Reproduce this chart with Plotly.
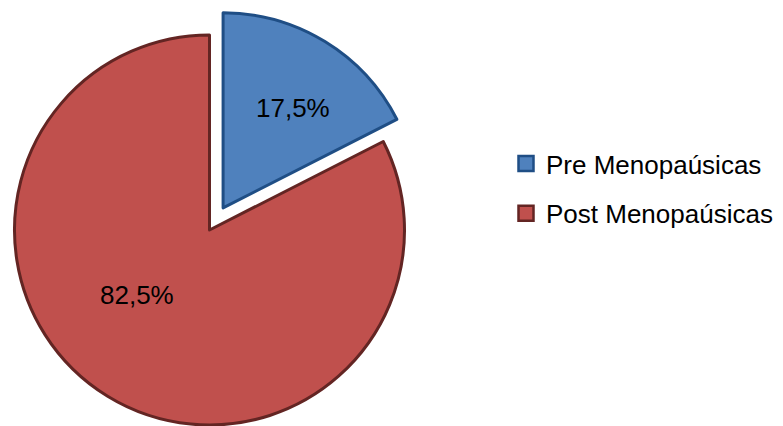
import math
import plotly.graph_objects as go

# ---- data ----
labels = ["Pre Menopaúsicas", "Post Menopaúsicas"]
values = [17.5, 82.5]
fill_colors = ["#4F81BD", "#C0504D"]
line_colors = ["#1F4E85", "#632523"]

# page body has an 8px margin, so the figure is drawn 8px in from the window
OFF = 8
W, H = 783 - OFF, 426 - OFF
FONT = "Liberation Sans, Arial, sans-serif"
TRANSP = "rgba(0,0,0,0)"

# layout styling (window pixels)
cx, cy, r = 209.5, 230.0, 195.0    # main pie centre / radius
explode = 26.0                      # distance the first slice is pulled out
# label placement: (fraction of radius, angle clockwise from 12 o'clock, degrees)
label_pos = [(0.625, 35.0), (0.50, 228.0)]

total = sum(values)
texts = [f"{v / total * 100:.1f}%".replace(".", ",") for v in values]

# direction of the exploded slice (bisector, clockwise from 12 o'clock)
mid = math.pi * values[0] / total
ecx = cx + math.sin(mid) * explode
ecy = cy - math.cos(mid) * explode
centers = [(ecx, ecy), (cx, cy)]


def px(x):
    return (x - OFF) / W


def py(y):
    return 1 - (y - OFF) / H


def dom(x0, y0):
    return dict(x=[px(x0 - r), px(x0 + r)], y=[py(y0 + r), py(y0 - r)])


fig = go.Figure()

# main pie (all slices except the exploded one visible)
fig.add_trace(go.Pie(
    labels=labels, values=values, sort=False, direction="clockwise", rotation=0,
    marker=dict(colors=[TRANSP] + fill_colors[1:],
                line=dict(color=[TRANSP] + line_colors[1:], width=3)),
    textinfo="none",
    domain=dom(cx, cy), showlegend=False, hoverinfo="skip", automargin=False,
))

# exploded slice
fig.add_trace(go.Pie(
    labels=labels, values=values, sort=False, direction="clockwise", rotation=0,
    marker=dict(colors=fill_colors[:1] + [TRANSP],
                line=dict(color=line_colors[:1] + [TRANSP], width=3)),
    textinfo="none",
    domain=dom(ecx, ecy), showlegend=False, hoverinfo="skip", automargin=False,
))

# data labels
for i, t in enumerate(texts):
    f, ang = label_pos[i]
    x0, y0 = centers[i]
    lx = x0 + math.sin(math.radians(ang)) * f * r
    ly = y0 - math.cos(math.radians(ang)) * f * r
    fig.add_annotation(x=px(lx), y=py(ly), xref="paper", yref="paper",
                       text=t, showarrow=False, xanchor="center", yanchor="middle",
                       font=dict(family=FONT, size=26, color="black"))

# legend entries
for i, lab in enumerate(labels):
    fig.add_trace(go.Scatter(
        x=[None], y=[None], mode="markers", name=lab, legendgroup=lab,
        marker=dict(symbol="square", size=15, color=fill_colors[i],
                    line=dict(color=line_colors[i], width=2.5)),
        hoverinfo="skip",
    ))

fig.update_layout(
    width=W, height=H,
    margin=dict(l=0, r=0, t=0, b=0),
    paper_bgcolor="white", plot_bgcolor="white",
    xaxis=dict(visible=False), yaxis=dict(visible=False),
    font=dict(family=FONT, size=26, color="black"),
    legend=dict(x=px(506), y=py(140), xanchor="left", yanchor="top",
                tracegroupgap=13, traceorder="grouped",
                font=dict(family=FONT, size=26, color="black"),
                bgcolor="rgba(0,0,0,0)"),
)

fig.write_html("out.html")
